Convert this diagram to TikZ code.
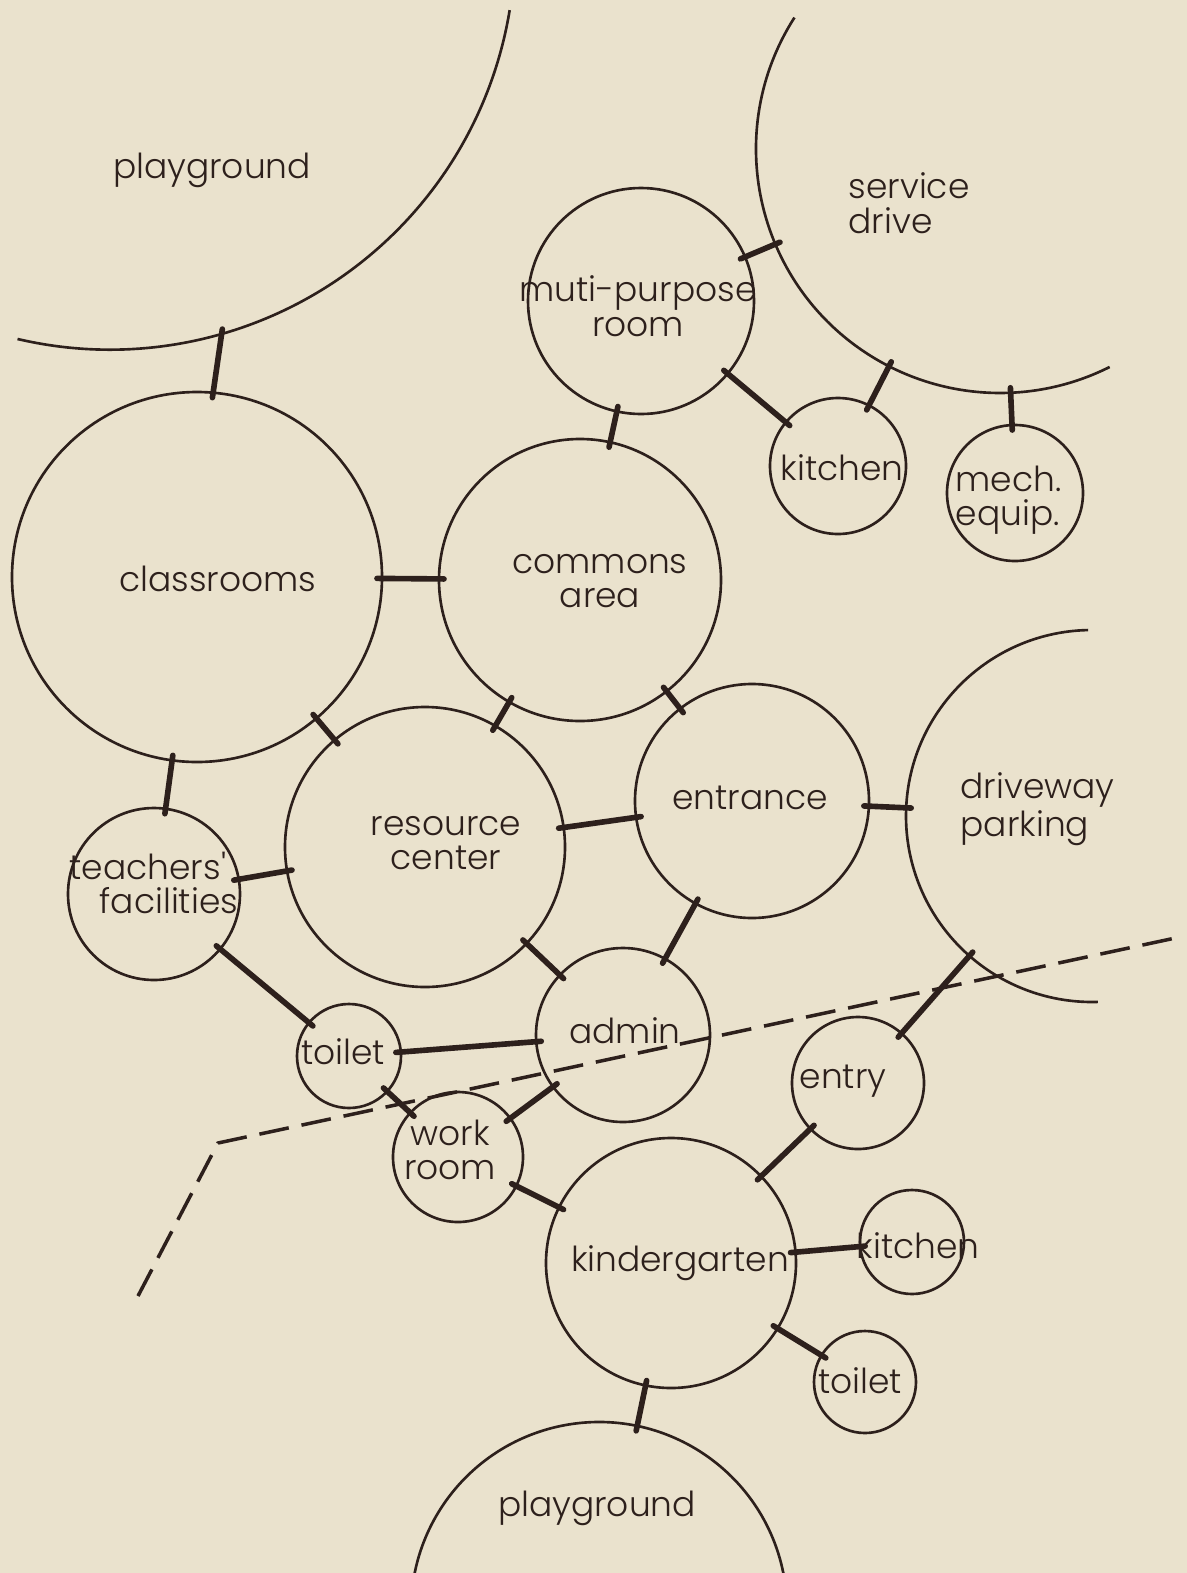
\documentclass[tikz,border=0pt]{standalone}
\usepackage{fontspec}
\setmainfont{Poppins}[UprightFont=* Light]
\definecolor{paper}{RGB}{234,226,205}
\definecolor{ink}{RGB}{45,32,28}

\begin{document}
\begin{tikzpicture}[
  bubble/.style={draw=ink,circle,line width=0.75pt,inner sep=0pt,outer sep=0pt},
  zone/.style={circle,inner sep=0pt,outer sep=0pt},
  ring/.style={draw=ink,line width=0.75pt},
  link/.style={draw=ink,line width=1.6pt,line cap=round,shorten <=-0.05cm,shorten >=-0.05cm},
  tag/.style={text=ink,align=center,inner sep=0pt,font=\fontsize{9.8}{9.8}\selectfont}
]
\useasboundingbox (0,0) rectangle (11.87,-15.73);
\fill[paper] (0,0) rectangle (11.87,-15.73);

% outdoor areas, only partly drawn
\node[zone,minimum size=8.10cm] (pgtop) at (1.10,0.553) {};
\node[zone,minimum size=4.88cm] (svc) at (10.00,-1.49) {};
\node[zone,minimum size=3.72cm] (park) at (10.92,-8.16) {};
\node[zone,minimum size=3.76cm] (pgbot) at (5.99,-16.10) {};

\draw[ring] ([shift={(256.8:4.05)}]pgtop.center) arc[start angle=256.8,end angle=350.7,radius=4.05];
\draw[ring] ([shift={(147.4:2.44)}]svc.center) arc[start angle=147.4,end angle=296.7,radius=2.44];
\draw[ring] ([shift={(91.2:1.86)}]park.center) arc[start angle=91.2,end angle=271.8,radius=1.86];
\draw[ring] ([shift={(11.35:1.88)}]pgbot.center) arc[start angle=11.35,end angle=168.65,radius=1.88];

% rooms
\node[bubble,minimum size=2.26cm] (mpr) at (6.41,-3.01) {};
\node[bubble,minimum size=1.36cm] (kit1) at (8.38,-4.66) {};
\node[bubble,minimum size=1.36cm] (mech) at (10.15,-4.93) {};
\node[bubble,minimum size=3.70cm] (cls) at (1.97,-5.77) {};
\node[bubble,minimum size=2.82cm] (com) at (5.80,-5.80) {};
\node[bubble,minimum size=2.34cm] (ent) at (7.52,-8.01) {};
\node[bubble,minimum size=2.80cm] (res) at (4.25,-8.47) {};
\node[bubble,minimum size=1.72cm] (tea) at (1.54,-8.94) {};
\node[bubble,minimum size=1.04cm] (toi1) at (3.49,-10.56) {};
\node[bubble,minimum size=1.30cm] (work) at (4.58,-11.57) {};
\node[bubble,minimum size=1.74cm] (adm) at (6.23,-10.35) {};
\node[bubble,minimum size=1.32cm] (entry) at (8.58,-10.83) {};
\node[bubble,minimum size=2.50cm] (kg) at (6.71,-12.63) {};
\node[bubble,minimum size=1.04cm] (kit2) at (9.12,-12.42) {};
\node[bubble,minimum size=1.02cm] (toi2) at (8.65,-13.82) {};

% labels
\node[tag] (pgtop-t) at (2.12,-1.70) {playground};
\node[tag,align=left,anchor=west] (svc-t) at (8.48,-2.03) {service\\drive};
\node[tag] (mpr-t) at (6.38,-3.06) {muti-purpose\\room};
\node[tag] (kit1-t) at (8.42,-4.68) {kitchen};
\node[tag,align=left,anchor=west] (mech-t) at (9.55,-5.00) {mech.\\equip.};
\node[tag] (cls-t) at (2.18,-5.79) {classrooms};
\node[tag] (com-t) at (6.00,-5.81) {commons\\area};
\node[tag] (ent-t) at (7.50,-7.98) {entrance};
\node[tag,align=left,anchor=west] (park-t) at (9.60,-8.09) {driveway\\parking};
\node[tag] (res-t) at (4.46,-8.43) {resource\\center};
\node[tag,align=left,anchor=west] (tea-t) at (0.69,-8.83) {teachers\textquotesingle\\\hspace*{0.30cm}facilities};
\node[tag] (toi1-t) at (3.43,-10.52) {toilet};
\node[tag] (adm-t) at (6.25,-10.31) {admin};
\node[tag] (work-t) at (4.50,-11.50) {work\\room};
\node[tag] (entry-t) at (8.43,-10.81) {entry};
\node[tag] (kg-t) at (6.80,-12.63) {kindergarten};
\node[tag] (kit2-t) at (9.18,-12.46) {kitchen};
\node[tag] (toi2-t) at (8.60,-13.81) {toilet};
\node[tag] (pgbot-t) at (5.97,-15.08) {playground};

\path (cls.85) edge[link] (pgtop.286)
(mpr) edge[link] (svc)
(mpr) edge[link] (kit1)
(kit1) edge[link] (svc)
(mech) edge[link] (svc)
(mpr) edge[link] (com)
(cls) edge[link] (com)
(com) edge[link] (res)
(com) edge[link] (ent)
(cls) edge[link] (res)
(cls) edge[link] (tea)
(tea) edge[link] (res)
(res) edge[link] (ent)
(ent) edge[link] (park)
(ent) edge[link] (adm)
(res) edge[link] (adm)
(tea) edge[link] (toi1)
(toi1) edge[link] (adm)
(toi1) edge[link] (work)
(work) edge[link] (adm)
(work) edge[link] (kg)
(entry) edge[link] (park)
(entry) edge[link] (kg)
(kg) edge[link] (kit2)
(kg) edge[link] (toi2)
(kg) edge[link] (pgbot)
;

% site boundary
\draw[ink,line width=1pt,dash pattern=on 0.30cm off 0.13cm] (1.38,-12.96) -- (2.18,-11.43) -- (11.80,-9.37);

\end{tikzpicture}
\end{document}
